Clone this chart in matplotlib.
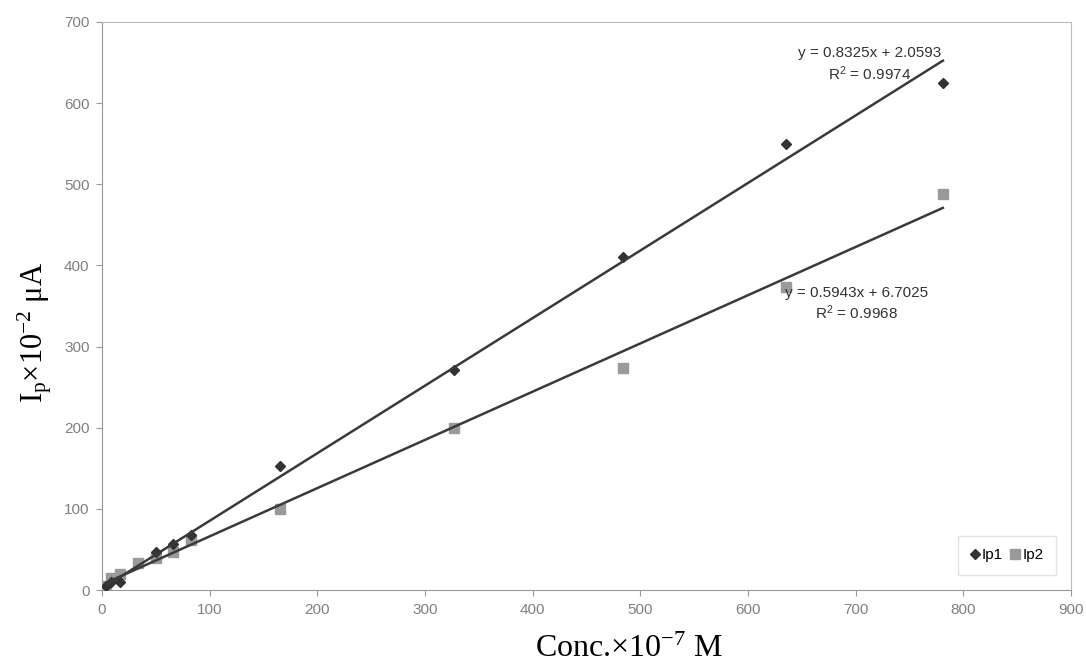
import numpy as np
import matplotlib
import matplotlib.pyplot as plt

matplotlib.use('Agg')

plt.rcParams['font.family'] = ['Liberation Sans', 'DejaVu Sans']
plt.rcParams['mathtext.fontset'] = 'custom'
plt.rcParams['mathtext.rm'] = 'Liberation Serif'
plt.rcParams['mathtext.it'] = 'Liberation Serif:italic'

# data
conc1 = [4.1, 8.2, 16.5, 50, 66, 83, 165, 327, 484, 635, 781]
ip1 = [5, 10, 10, 47, 57, 68, 153, 271, 410, 550, 625]
conc2 = [4.1, 8.2, 16.5, 33, 50, 66, 83, 165, 327, 484, 635, 781]
ip2 = [5, 15, 20, 33, 40, 47, 62, 100, 200, 273, 373, 488]

fit1 = (0.8325, 2.0593)
fit2 = (0.5943, 6.7025)
r2_1 = 0.9974
r2_2 = 0.9968

fig = plt.figure(figsize=(10.86, 6.64), dpi=100)
ax = fig.add_axes([0.0939, 0.1114, 0.8923, 0.8556])

grey = '#999999'
ax.plot(conc2, ip2, 's', color='#9a9a9a', markersize=6.5, label='Ip2', zorder=2)
ax.plot(conc1, ip1, 'D', color='#333333', markersize=5.5, label='Ip1', zorder=3)

xs = np.array([min(conc1), max(conc1)])
ax.plot(xs, fit1[0] * xs + fit1[1], color='#3a3a3a', lw=1.8, zorder=4)
xs = np.array([min(conc2), max(conc2)])
ax.plot(xs, fit2[0] * xs + fit2[1], color='#3a3a3a', lw=1.8, zorder=4)

ax.text(713, 670, f'y = {fit1[0]}x + {fit1[1]}\n$\\mathregular{{R^2}}$ = {r2_1}',
        ha='center', va='top', fontsize=11, color='#333333', linespacing=1.25)
ax.text(701, 375, f'y = {fit2[0]}x + {fit2[1]}\n$\\mathregular{{R^2}}$ = {r2_2}',
        ha='center', va='top', fontsize=11, color='#333333', linespacing=1.25)

ax.set_xlim(0, 900)
ax.set_ylim(0, 700)
ax.set_xticks(np.arange(0, 901, 100))
ax.set_yticks(np.arange(0, 701, 100))
ax.tick_params(colors=grey, labelsize=11, length=4, labelcolor='#808080', pad=5)
for s in ax.spines.values():
    s.set_color('#bbbbbb')
    s.set_linestyle((0, (4, 1)))
ax.spines['left'].set_color(grey)
ax.spines['bottom'].set_color(grey)
ax.spines['bottom'].set_linestyle('-')

ax.set_xlabel(r'Conc.×10$^{-7}$ M', family='Liberation Serif', fontsize=23)
ax.set_ylabel(r'I$_\mathrm{p}$×10$^{-2}$ μA', family='Liberation Serif', fontsize=22)
ax.xaxis.set_label_coords(0.544, -0.078)
ax.yaxis.set_label_coords(-0.05, 0.454)

h, l = ax.get_legend_handles_labels()
ax.legend(h[::-1], l[::-1], loc='center', ncol=2, fontsize=11, frameon=True,
          edgecolor='#dddddd', fancybox=False, handletextpad=0.15, columnspacing=0.5,
          handlelength=0.6, borderpad=0.8, bbox_to_anchor=(0.934, 0.061))

fig.savefig('out.png', dpi=100)
